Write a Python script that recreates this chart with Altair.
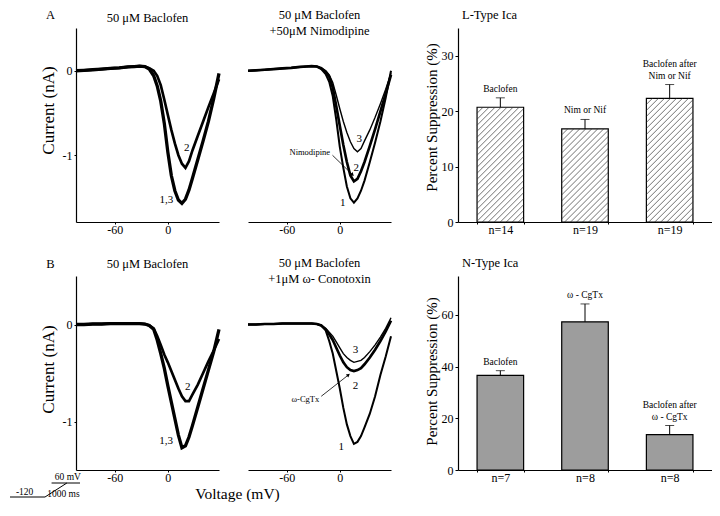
import json
import altair as alt
import pandas as pd

FONT = "Liberation Serif"

# ---------------- I-V data (voltage in mV, current in nA) ----------------
V = [-104, -95, -85, -75, -65, -55, -45, -38, -32, -26, -21, -16, -12, -8,
     -4, 0, 4, 8, 12, 16, 20, 24, 28, 34, 40, 46, 52, 58]

# A, left: 50 uM baclofen
a_left_13 = [0.0, 0.005, 0.012, 0.02, 0.028, 0.035, 0.045, 0.05, 0.055, 0.05,
             0.02, -0.06, -0.18, -0.36, -0.62, -0.96, -1.24, -1.42, -1.53, -1.57,
             -1.52, -1.41, -1.27, -1.05, -0.83, -0.6, -0.33, -0.03]
a_left_2 = [0.0, 0.005, 0.012, 0.02, 0.028, 0.035, 0.045, 0.05, 0.055, 0.05,
            0.03, 0.0, -0.06, -0.17, -0.34, -0.52, -0.7, -0.86, -1.0, -1.1,
            -1.15, -1.07, -0.94, -0.77, -0.6, -0.43, -0.27, -0.1]
# A, middle: baclofen + nimodipine
a_mid_1 = [0.0, 0.005, 0.012, 0.02, 0.028, 0.035, 0.045, 0.05, 0.055, 0.05,
           0.02, -0.04, -0.13, -0.3, -0.58, -0.9, -1.15, -1.37, -1.51, -1.56,
           -1.51, -1.42, -1.3, -1.08, -0.85, -0.6, -0.32, 0.0]
a_mid_2 = [0.0, 0.005, 0.012, 0.02, 0.028, 0.035, 0.045, 0.05, 0.055, 0.05,
           0.03, -0.01, -0.07, -0.2, -0.42, -0.65, -0.88, -1.08, -1.24, -1.31,
           -1.28, -1.19, -1.08, -0.89, -0.69, -0.48, -0.27, -0.05]
a_mid_3 = [0.0, 0.005, 0.012, 0.02, 0.028, 0.035, 0.045, 0.05, 0.055, 0.05,
           0.03, 0.0, -0.05, -0.14, -0.29, -0.45, -0.6, -0.73, -0.84, -0.92,
           -0.96, -0.92, -0.83, -0.7, -0.55, -0.39, -0.22, -0.03]
# B, left: 50 uM baclofen
b_left_13 = [0.0, 0.0, 0.005, 0.005, 0.01, 0.01, 0.01, 0.01, 0.01, 0.005,
             -0.01, -0.05, -0.16, -0.3, -0.45, -0.63, -0.8, -0.97, -1.14, -1.27,
             -1.25, -1.16, -1.04, -0.85, -0.66, -0.47, -0.28, -0.05]
b_left_2 = [0.0, 0.0, 0.005, 0.005, 0.01, 0.01, 0.01, 0.01, 0.01, 0.005,
            -0.01, -0.04, -0.12, -0.21, -0.31, -0.39, -0.48, -0.57, -0.66, -0.74,
            -0.79, -0.79, -0.72, -0.62, -0.5, -0.38, -0.27, -0.15]
# B, middle: baclofen + omega-conotoxin
b_mid_1 = [0.0, 0.0, 0.005, 0.005, 0.01, 0.01, 0.01, 0.01, 0.01, 0.005,
           -0.01, -0.06, -0.17, -0.3, -0.48, -0.66, -0.86, -1.03, -1.15, -1.23,
           -1.21, -1.15, -1.06, -0.92, -0.74, -0.52, -0.33, -0.12]
b_mid_2 = [0.0, 0.0, 0.005, 0.005, 0.01, 0.01, 0.01, 0.01, 0.01, 0.005,
           -0.01, -0.05, -0.1, -0.16, -0.24, -0.32, -0.39, -0.44, -0.47, -0.48,
           -0.47, -0.45, -0.41, -0.34, -0.26, -0.17, -0.07, 0.04]
b_mid_3 = [0.0, 0.0, 0.005, 0.005, 0.01, 0.01, 0.01, 0.01, 0.01, 0.005,
           -0.01, -0.04, -0.08, -0.12, -0.18, -0.24, -0.3, -0.34, -0.37, -0.39,
           -0.38, -0.37, -0.34, -0.28, -0.21, -0.13, -0.04, 0.07]

# trace labels (text, mV, nA)
a_left_lab = ["2", "1,3"];        a_left_lab_v = [21.5, -1.5];   a_left_lab_i = [-0.92, -1.53]
a_mid_lab = ["3", "2", "1"];      a_mid_lab_v = [22, 18.5, 3.4]; a_mid_lab_i = [-0.81, -1.15, -1.57]
b_left_lab = ["2", "1,3"];        b_left_lab_v = [22.6, -2];     b_left_lab_i = [-0.64, -1.2]
b_mid_lab = ["3", "2", "1"];      b_mid_lab_v = [17.8, 17.8, 1.5]; b_mid_lab_i = [-0.26, -0.63, -1.26]
a_drug = "Nimodipine"; a_drug_v = -34; a_drug_i = -0.96
a_arrow_v = [-8.3, 14.4]; a_arrow_i = [-1.0, -1.23]
b_drug = "ω-CgTx"; b_drug_v = -39; b_drug_i = -0.77
b_arrow_v = [-21, 9.8]; b_arrow_i = [-0.74, -0.52]

# panel letters and left-panel headings (text, mV, nA)
a_heads = ["A", "50 μM Baclofen"]; a_heads_v = [-133, -23]; a_heads_i = [0.66, 0.624]
b_heads = ["B", "50 μM Baclofen"]; b_heads_v = [-133, -23]; b_heads_i = [0.624, 0.624]

# voltage protocol schematic (ms, mV)
proto_seg = ["hold", "hold", "ramp", "ramp", "top", "top"]
proto_t = [-1600, 0, 0, 1000, 300, 1600]
proto_v = [-120, -120, -120, 60, 60, 60]
proto_lab = ["60 mV", "-120", "1000 ms"]
proto_lab_t = [1045, -930, 840]
proto_lab_v = [137, -56, -81]

# ---------------- bar data ----------------
l_names = ["Baclofen", "Nim or Nif", "Baclofen after\nNim or Nif"]
l_vals = [20.7, 16.8, 22.3]
l_errs = [1.7, 1.7, 2.5]
l_n = ["n=14", "n=19", "n=19"]
n_names = ["Baclofen", "ω - CgTx", "Baclofen after\nω - CgTx"]
n_vals = [36.6, 57.3, 13.7]
n_errs = [1.8, 6.9, 3.5]
n_n = ["n=7", "n=8", "n=8"]

IV_W, IV_H = 143, 194
MID_W = 181
BAR_W = 254
XDOM = [-104, 58]


def curve_df(names, series):
    rows = []
    for nm, s in zip(names, series):
        for v, i in zip(V, s):
            rows.append({"V": v, "I": i, "trace": nm})
    return pd.DataFrame(rows)


def iv_panel(names, series, widths, ydom, labels, show_y=False, ytitle_y=90,
             xtitle=None, heads=None, drug=None, arrow=None, arrow_angle=0):
    xs = alt.Scale(domain=XDOM, nice=False, zero=False, range=[0, IV_W])
    ys = alt.Scale(domain=ydom, nice=False, zero=False)
    xax_kw = dict(values=[-60, 0], tickSize=2, labelPadding=0, labelFontSize=12,
                  labelExpr="datum.value")
    if xtitle:
        xax = alt.Axis(title=xtitle, titleX=161, titleY=23, titleAlign="center",
                       titleBaseline="middle", titleFontSize=15.5, **xax_kw)
    else:
        xax = alt.Axis(title=None, **xax_kw)
    if show_y:
        yax = alt.Axis(values=[-1, 0], tickSize=2, labelPadding=2, labelFontSize=12,
                       labelExpr="datum.value",
                       title="Current (nA)", titleFontSize=17, titleX=-28,
                       titleY=ytitle_y, titleAngle=270, titleAlign="center",
                       titleBaseline="middle")
    else:
        yax = None
    df = curve_df(names, series)
    x = alt.X("V:Q", scale=xs, axis=xax)
    y = alt.Y("I:Q", scale=ys, axis=yax)
    lines = alt.Chart(df).mark_line(color="black").encode(
        x=x, y=y, detail="trace:N",
        strokeWidth=alt.StrokeWidth("trace:N", scale=alt.Scale(domain=names, range=widths),
                                    legend=None))
    t, tv, ti = labels
    lab = alt.Chart(pd.DataFrame({"t": t, "V": tv, "I": ti})).mark_text(
        font=FONT, fontSize=11, color="black").encode(
        x=alt.X("V:Q", scale=xs), y=alt.Y("I:Q", scale=ys), text="t:N")
    layers = [lines, lab]
    if heads:
        ht, hv, hi = heads
        layers.append(alt.Chart(pd.DataFrame({"t": ht, "V": hv, "I": hi}))
                      .mark_text(font=FONT, fontSize=12.5, color="black", baseline="middle")
                      .encode(x=alt.X("V:Q", scale=xs), y=alt.Y("I:Q", scale=ys), text="t:N"))
    if drug:
        layers.append(alt.Chart(pd.DataFrame({"t": [drug[0]], "V": [drug[1]], "I": [drug[2]]}))
                      .mark_text(font=FONT, fontSize=8.5, color="black")
                      .encode(x=alt.X("V:Q", scale=xs), y=alt.Y("I:Q", scale=ys), text="t:N"))
    if arrow:
        av, ai = arrow
        layers.append(alt.Chart(pd.DataFrame({"V": [av[0]], "I": [ai[0]], "V2": [av[1]], "I2": [ai[1]]}))
                      .mark_rule(color="black", strokeWidth=0.8)
                      .encode(x=alt.X("V:Q", scale=xs), y=alt.Y("I:Q", scale=ys), x2="V2:Q", y2="I2:Q"))
        layers.append(alt.Chart(pd.DataFrame({"V": [av[1]], "I": [ai[1]]}))
                      .mark_point(shape="triangle-right", filled=True, color="black", size=16,
                                  angle=arrow_angle, opacity=1)
                      .encode(x=alt.X("V:Q", scale=xs), y=alt.Y("I:Q", scale=ys)))
    return alt.layer(*layers)


def titled(ch, lines, offset, width, dx=0):
    return ch.properties(
        width=width, height=IV_H,
        title=alt.TitleParams(lines, offset=offset, anchor="middle", fontSize=12.5,
                              lineHeight=16, dx=dx, frame="group"))


# ---- row A ----
ivAL = iv_panel(["1,3", "2"], [a_left_13, a_left_2], [3.3, 1.4], [-1.79, 0.506],
                (a_left_lab, a_left_lab_v, a_left_lab_i),
                show_y=True, ytitle_y=82,
                heads=(a_heads, a_heads_v, a_heads_i)).properties(width=IV_W, height=IV_H)
ivAM = titled(iv_panel(["1", "2", "3"], [a_mid_1, a_mid_2, a_mid_3], [3.3, 2.2, 2.0],
                       [-1.79, 0.506], (a_mid_lab, a_mid_lab_v, a_mid_lab_i),
                       drug=(a_drug, a_drug_v, a_drug_i), arrow=(a_arrow_v, a_arrow_i),
                       arrow_angle=44),
              ["50 μM Baclofen", "+50μM Nimodipine"], -9, MID_W, dx=-19)

# ---- row B ----
ivBL_main = iv_panel(["1,3", "2"], [b_left_13, b_left_2], [2.8, 2.4], [-1.5, 0.5],
                     (b_left_lab, b_left_lab_v, b_left_lab_i),
                     show_y=True, ytitle_y=93, xtitle="Voltage (mV)",
                     heads=(b_heads, b_heads_v, b_heads_i))
psx = alt.Scale(domain=[-1600, 1600], range=[-66, 4], nice=False, zero=False)
psy = alt.Scale(domain=[-120, 60], range=[221, 207], nice=False, zero=False)
proto_line = alt.Chart(pd.DataFrame({"seg": proto_seg, "t": proto_t, "v": proto_v})).mark_line(
    color="black", strokeWidth=1).encode(
    x=alt.X("t:Q", scale=psx, axis=None), y=alt.Y("v:Q", scale=psy, axis=None), detail="seg:N")
proto_text = alt.Chart(pd.DataFrame({"lab": proto_lab, "t": proto_lab_t, "v": proto_lab_v})).mark_text(
    font=FONT, fontSize=9.5, color="black").encode(
    x=alt.X("t:Q", scale=psx, axis=None), y=alt.Y("v:Q", scale=psy, axis=None), text="lab:N")
ivBL = alt.layer(ivBL_main, alt.layer(proto_line, proto_text)).resolve_scale(
    x="independent", y="independent").properties(width=IV_W, height=IV_H)
ivBM = titled(iv_panel(["1", "2", "3"], [b_mid_1, b_mid_2, b_mid_3], [1.2, 2.6, 2.8],
                       [-1.5, 0.5], (b_mid_lab, b_mid_lab_v, b_mid_lab_i),
                       drug=(b_drug, b_drug_v, b_drug_i), arrow=(b_arrow_v, b_arrow_i),
                       arrow_angle=322),
              ["50 μM Baclofen", "+1μM ω- Conotoxin"], -9, MID_W, dx=-19)


def bar_panel(names, vals, errs, nlabs, ydom, yticks, fill, ytitle_y, title, hatch):
    parts = [nm.split("\n") for nm in names]
    df = pd.DataFrame({"idx": [0, 1, 2], "val": vals,
                       "hi": [v + e for v, e in zip(vals, errs)],
                       "line1": [p[0] if len(p) > 1 else "" for p in parts],
                       "line2": [p[-1] for p in parts]})
    xs = alt.Scale(domain=[0, 1, 2], paddingInner=0.45, paddingOuter=0.225)
    ys = alt.Scale(domain=ydom, nice=False, zero=True)
    xax = alt.Axis(title=None, labelExpr=f"{json.dumps(nlabs)}[datum.value]", tickBand="extent",
                   tickSize=2, labelPadding=0, labelAngle=0, labelFontSize=12)
    yax = alt.Axis(values=yticks, title="Percent Suppression (%)", titleFontSize=15,
                   titleX=-27, titleY=ytitle_y, titleAngle=270, titleAlign="center",
                   titleBaseline="middle", tickSize=3, labelPadding=2, labelFontSize=12)
    base = alt.Chart(df)
    x = alt.X("idx:O", scale=xs, axis=xax)
    bars = base.mark_bar(fill=fill, stroke="black", strokeWidth=1.2).encode(
        x=x, y=alt.Y("val:Q", scale=ys, axis=yax))
    err = base.mark_rule(color="black", strokeWidth=1).encode(x=x, y="val:Q", y2="hi:Q")
    cap = base.mark_tick(orient="horizontal", color="black", size=9, thickness=1).encode(
        x=x, y="hi:Q")
    txt2 = base.mark_text(font=FONT, fontSize=9.5, baseline="bottom", dy=-4,
                          color="black").encode(x=x, y="hi:Q", text="line2:N")
    txt1 = base.mark_text(font=FONT, fontSize=9.5, baseline="bottom", dy=-16,
                          color="black").encode(x=x, y="hi:Q", text="line1:N")
    main = alt.layer(bars, err, cap, txt2, txt1)
    if hatch:
        K = (BAR_W / 3) / (IV_H / ydom[1])
        DC = 6 / (BAR_W / 3)
        h = base.transform_calculate(
            xl="datum.idx + 0.225", xr="datum.idx + 0.775", j="sequence(0, 60)"
        ).transform_flatten(["j"]).transform_calculate(
            c=f"datum.xl - datum.val/{K} + datum.j*{DC}"
        ).transform_calculate(
            xs="max(datum.xl, datum.c)", xe=f"min(datum.xr, datum.c + datum.val/{K})"
        ).transform_filter("datum.xs < datum.xe").transform_calculate(
            ys=f"{K}*(datum.xs - datum.c)", ye=f"{K}*(datum.xe - datum.c)"
        ).mark_rule(color="#333333", strokeWidth=0.7).encode(
            x=alt.X("xs:Q", scale=alt.Scale(domain=[0, 3], nice=False, zero=False), axis=None),
            x2="xe:Q",
            y=alt.Y("ys:Q", scale=alt.Scale(domain=ydom, nice=False, zero=False), axis=None),
            y2="ye:Q")
        main = alt.layer(main, h).resolve_scale(x="independent", y="independent")
    return main.properties(width=BAR_W, height=IV_H,
                           title=alt.TitleParams(title, anchor="start", offset=7, dx=4,
                                                 fontSize=12.5, frame="group"))


barA = bar_panel(l_names, l_vals, l_errs, l_n, [0, 35], [0, 10, 20, 30], "white", 89,
                 "L-Type Ica", True)
barB = bar_panel(n_names, n_vals, n_errs, n_n, [0, 75], [0, 20, 40, 60], "#9d9d9d", 95,
                 "N-Type Ica", False)

chart = alt.concat(ivAL, ivAM, barA, ivBL, ivBM, barB, columns=3,
                   spacing={"row": 54, "column": 29}, bounds="flush", align="each",
                   padding=0, background="white").configure_view(strokeWidth=0).configure_axis(
    domainColor="black", domainWidth=1.2, tickColor="black", labelColor="black",
    titleColor="black", labelFont=FONT, titleFont=FONT, grid=False,
    titleFontWeight="normal").configure_title(font=FONT, fontWeight="normal", color="black")

chart.save("out.html", embed_options={"renderer": "svg", "actions": False})
